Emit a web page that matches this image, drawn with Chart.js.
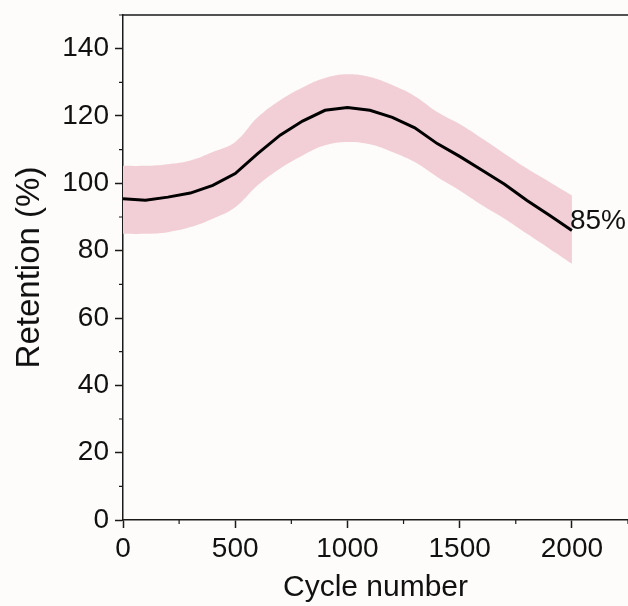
<!DOCTYPE html>
<html>
<head>
<meta charset="utf-8">
<script src="https://cdn.jsdelivr.net/npm/chart.js@4"></script>
<style>
  html, body { margin: 0; padding: 0; background: #fdfcfa; }
  #wrap { width: 628px; height: 606px; }
</style>
</head>
<body>
<div id="wrap"><canvas id="c"></canvas></div>
<script>
// 사이클 수에 따른 용량 유지율 — 평균선 + 오차 밴드
const cycles = [0, 100, 200, 300, 400, 500, 600, 700, 800, 900, 1000,
  1100, 1200, 1300, 1400, 1500, 1600, 1700, 1800, 1900, 2000];
const retention = [95.4, 95.0, 95.9, 97.1, 99.4, 102.9, 108.8, 114.3, 118.5, 121.7, 122.5,
  121.7, 119.6, 116.5, 111.8, 108.0, 103.9, 99.7, 94.9, 90.5, 86.0];
const bandUpper = [105.2, 105.2, 105.7, 106.8, 109.3, 112.3, 119.6, 124.7, 128.5, 131.3, 132.4,
  131.6, 129.2, 125.9, 121.2, 117.6, 113.3, 108.8, 104.4, 100.4, 96.4];
const bandLower = [85.0, 85.0, 85.5, 87.0, 89.5, 92.9, 99.4, 104.4, 108.3, 111.3, 112.3,
  111.6, 109.3, 106.3, 101.9, 97.9, 93.5, 89.5, 85.0, 80.6, 76.1];
const xTicks = [0, 500, 1000, 1500, 2000];
const yTicks = [0, 20, 40, 60, 80, 100, 120, 140];
const endLabel = '85%';

const FONT = 'Liberation Sans, Arial, sans-serif';
const AXIS = '#1a1a1a';

const pts = (ys) => cycles.map((x, i) => ({ x, y: ys[i] }));

// 배경 + 위쪽 테두리 + 보조 눈금 + 끝점 라벨
const frame = {
  id: 'frame',
  beforeDraw(chart) {
    const { ctx, width, height } = chart;
    ctx.save();
    ctx.fillStyle = '#fdfcfa';
    ctx.fillRect(0, 0, width, height);
    ctx.restore();
  },
  afterDraw(chart) {
    const { ctx, chartArea: a, scales: { x, y } } = chart;
    ctx.save();
    ctx.strokeStyle = AXIS;
    ctx.lineWidth = 1.5;
    ctx.beginPath();
    ctx.moveTo(a.left, a.top);
    ctx.lineTo(a.right, a.top);
    ctx.stroke();
    // 보조 눈금 (중간값)
    ctx.lineWidth = 1.2;
    ctx.beginPath();
    for (let i = 0; i < xTicks.length; i++) {
      const px = x.getPixelForValue(xTicks[i] + 250);
      ctx.moveTo(px, a.bottom);
      ctx.lineTo(px, a.bottom + 4);
    }
    for (let i = 0; i < yTicks.length; i++) {
      const py = y.getPixelForValue(yTicks[i] + 10);
      ctx.moveTo(a.left, py);
      ctx.lineTo(a.left - 4, py);
    }
    ctx.stroke();
    // 끝점 라벨
    const last = cycles.length - 1;
    ctx.fillStyle = '#111';
    ctx.font = `28px ${FONT}`;
    ctx.textAlign = 'left';
    ctx.textBaseline = 'alphabetic';
    ctx.fillText(endLabel, x.getPixelForValue(cycles[last]) - 2, y.getPixelForValue(retention[last]) - 1);
    ctx.restore();
  },
};

Chart.defaults.animation = false;

new Chart(document.getElementById('c'), {
  type: 'line',
  data: {
    datasets: [
      {
        label: 'upper', data: pts(bandUpper), fill: '+1', order: 2,
        backgroundColor: '#f2cfd6', borderWidth: 0, pointRadius: 0, tension: 0.4,
      },
      {
        label: 'lower', data: pts(bandLower), fill: false, order: 3,
        borderWidth: 0, pointRadius: 0, tension: 0.4,
      },
      {
        label: 'Retention', data: pts(retention), fill: false, order: 0,
        borderColor: '#000', borderWidth: 3, pointRadius: 0, tension: 0,
      },
    ],
  },
  options: {
    responsive: true,
    maintainAspectRatio: false,
    layout: { padding: { top: 15, right: 0, left: 0, bottom: 0 } },
    plugins: { legend: { display: false }, tooltip: { enabled: false } },
    scales: {
      x: {
        type: 'linear', min: 0, max: 2250,
        afterBuildTicks: (s) => { s.ticks = xTicks.map((v) => ({ value: v })); },
        afterFit: (s) => { s.height = 86; s.paddingLeft = 0; s.paddingRight = 0; },
        grid: { drawOnChartArea: false, tickLength: 8, tickWidth: 1.5, tickColor: AXIS },
        border: { color: AXIS, width: 1.5 },
        ticks: { color: '#111', font: { family: FONT, size: 28 }, padding: 4, maxRotation: 0, callback: (v) => String(v) },
        title: { display: true, text: 'Cycle number', color: '#111', font: { family: FONT, size: 30 }, padding: { top: 0, bottom: 0 } },
      },
      y: {
        min: 0, max: 150,
        afterBuildTicks: (s) => { s.ticks = yTicks.map((v) => ({ value: v })); },
        afterFit: (s) => { s.width = 123; s.paddingTop = 0; s.paddingBottom = 0; },
        grid: { drawOnChartArea: false, tickLength: 8, tickWidth: 1.5, tickColor: AXIS },
        border: { color: AXIS, width: 1.5 },
        ticks: { color: '#111', font: { family: FONT, size: 28 }, padding: 6, callback: (v) => String(v) },
        title: { display: true, text: 'Retention (%)', color: '#111', font: { family: FONT, size: 33 }, padding: { top: 10, bottom: 0 } },
      },
    },
  },
  plugins: [frame],
});
</script>
</body>
</html>
